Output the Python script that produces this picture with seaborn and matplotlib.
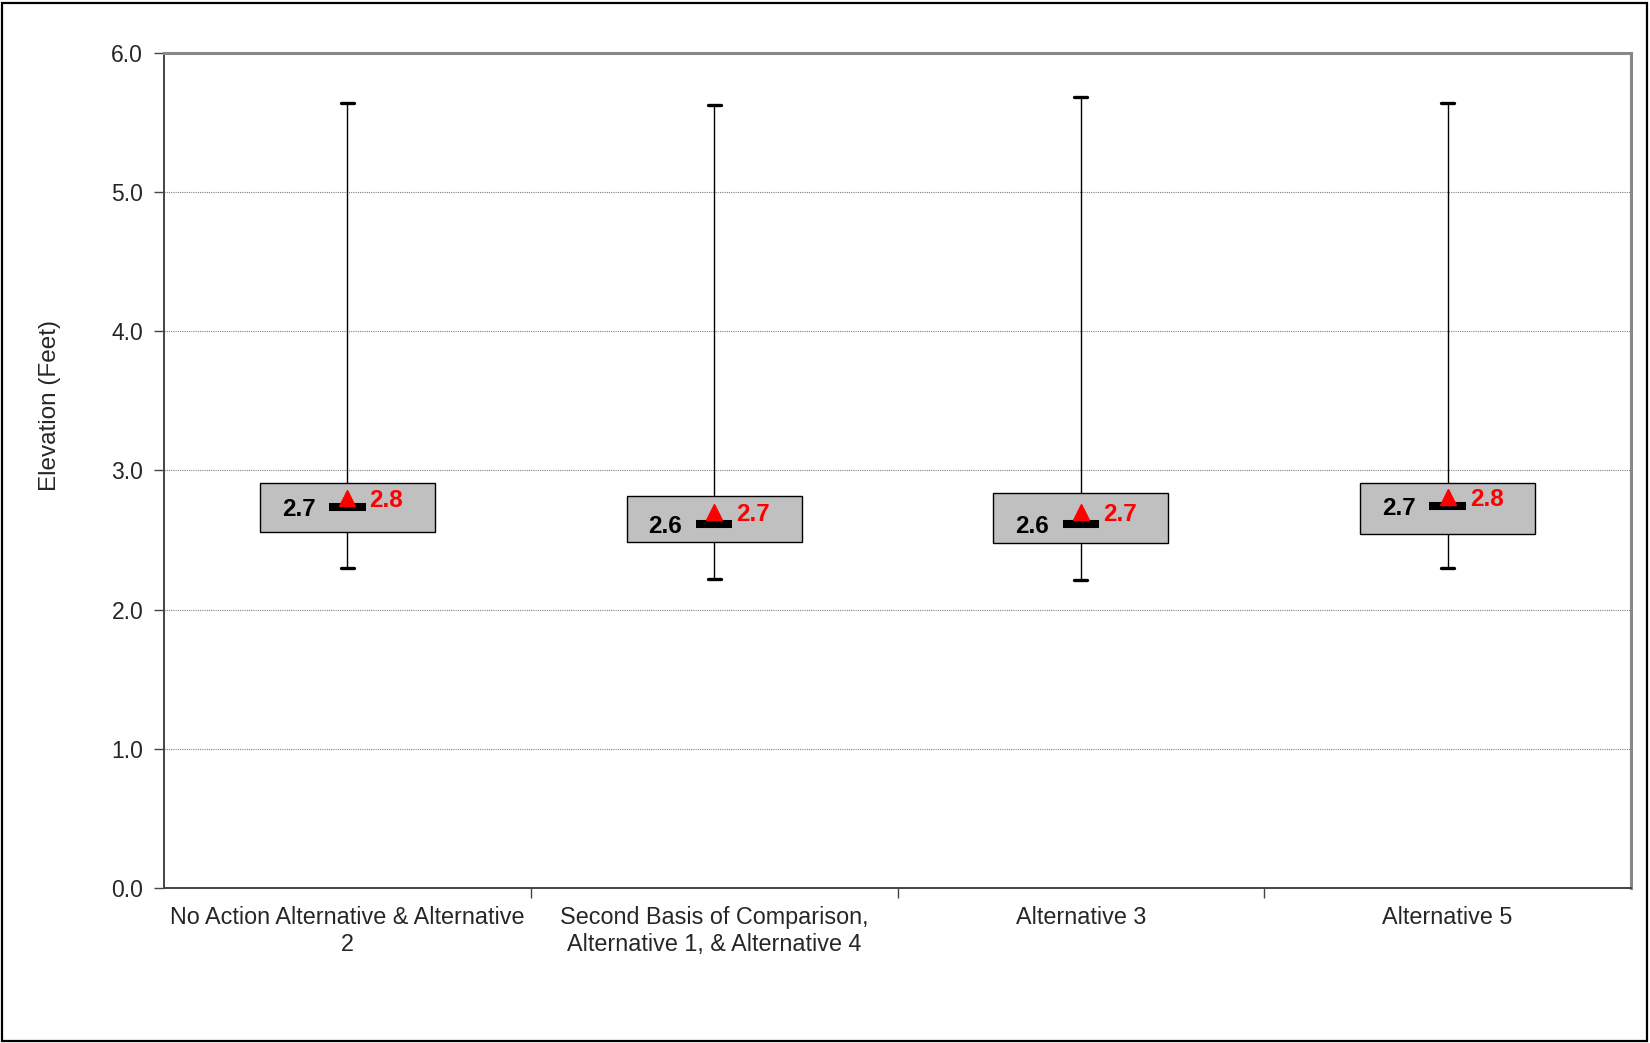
import matplotlib
matplotlib.use("Agg")
import matplotlib.pyplot as plt
from matplotlib.patches import Rectangle
import numpy as np
import pandas as pd
import seaborn as sns


categories = [
    "No Action Alternative & Alternative\n2",
    "Second Basis of Comparison,\nAlternative 1, & Alternative 4",
    "Alternative 3",
    "Alternative 5",
]
whisker_low = [2.30, 2.222, 2.215, 2.30]
quartile_1 = [2.555, 2.488, 2.479, 2.545]
medians = [2.74, 2.618, 2.618, 2.747]
quartile_3 = [2.908, 2.817, 2.836, 2.908]
whisker_high = [5.64, 5.625, 5.685, 5.64]
means = [2.80, 2.70, 2.70, 2.807]
y_ticks = [0.0, 1.0, 2.0, 3.0, 4.0, 5.0, 6.0]


# five points per group -> quartiles land exactly on q1/median/q3
rows = []
for i, cat in enumerate(categories):
    for v in [whisker_low[i], quartile_1[i], medians[i], quartile_3[i], whisker_high[i]]:
        rows.append({"group": cat, "elev": v})
df = pd.DataFrame(rows)

sns.set_style("white")
plt.rcParams["font.family"] = ["Liberation Sans", "DejaVu Sans"]

fig = plt.figure(figsize=(16.5, 10.43), dpi=100)
ax = fig.add_axes([0.0994, 0.1486, 0.8891, 0.8006])

sns.boxplot(
    data=df,
    x="group",
    y="elev",
    order=categories,
    whis=(0, 100),
    width=0.477,
    color="#C0C0C0",
    saturation=1,
    linecolor="black",
    linewidth=1.0,
    boxprops={"facecolor": "#C0C0C0", "edgecolor": "black"},
    whiskerprops={"color": "black", "linewidth": 1.0},
    capprops={"color": "black", "linewidth": 2.4},
    medianprops={"visible": False},
    capwidths=0.036,
    ax=ax,
)

pos = np.arange(len(categories))

# thick short median bar
ax.hlines(medians, pos - 0.05, pos + 0.05, colors="black", linewidth=5.8, zorder=4)

# mean markers
ax.plot(pos, means, linestyle="none", marker="^", markersize=12,
        color="red", markeredgecolor="red", zorder=5)

for i in range(len(categories)):
    ax.annotate(f"{medians[i]:.1f}", (pos[i], medians[i]),
                xytext=(-32, -3), textcoords="offset pixels",
                ha="right", va="center", fontsize=17.5,
                fontweight="bold", color="black", zorder=6)
    ax.annotate(f"{means[i]:.1f}", (pos[i], means[i]),
                xytext=(22, -2), textcoords="offset pixels",
                ha="left", va="center", fontsize=17.5,
                fontweight="bold", color="red", zorder=6)

ax.set_ylim(0, 6)
ax.set_xlim(-0.5, len(categories) - 0.5)
ax.set_yticks(y_ticks)
ax.set_yticklabels([f"{t:.1f}" for t in y_ticks], fontsize=16.5)
ax.set_xticks(pos)
ax.set_xticklabels(categories, fontsize=16.8, linespacing=1.2)
ax.set_xticks(np.arange(0.5, len(categories) - 0.5, 1.0), minor=True)
ax.tick_params(axis="x", which="major", length=0, pad=13)
ax.tick_params(axis="x", which="minor", length=7, width=1, color="#444444",
               direction="out", bottom=True)
ax.tick_params(axis="y", which="major", length=7, width=1, color="#444444",
               direction="out", left=True, pad=8)

ax.set_xlabel("")
ax.set_ylabel("Elevation (Feet)", fontsize=17.5)
ax.yaxis.set_label_coords(-0.07, 0.578)

ax.yaxis.grid(True, linestyle=(0, (1, 1)), color="#808080", linewidth=0.8)
ax.set_axisbelow(True)

for side in ["top", "right"]:
    ax.spines[side].set_color("#888888")
    ax.spines[side].set_linewidth(2.2)
for side in ["left", "bottom"]:
    ax.spines[side].set_color("#444444")
    ax.spines[side].set_linewidth(1.4)

# outer chart frame
fig.add_artist(Rectangle((0.0015, 0.002), 0.9965, 0.9955,
                         transform=fig.transFigure, fill=False,
                         edgecolor="black", linewidth=1.6))

fig.savefig("out.png", dpi=100)
